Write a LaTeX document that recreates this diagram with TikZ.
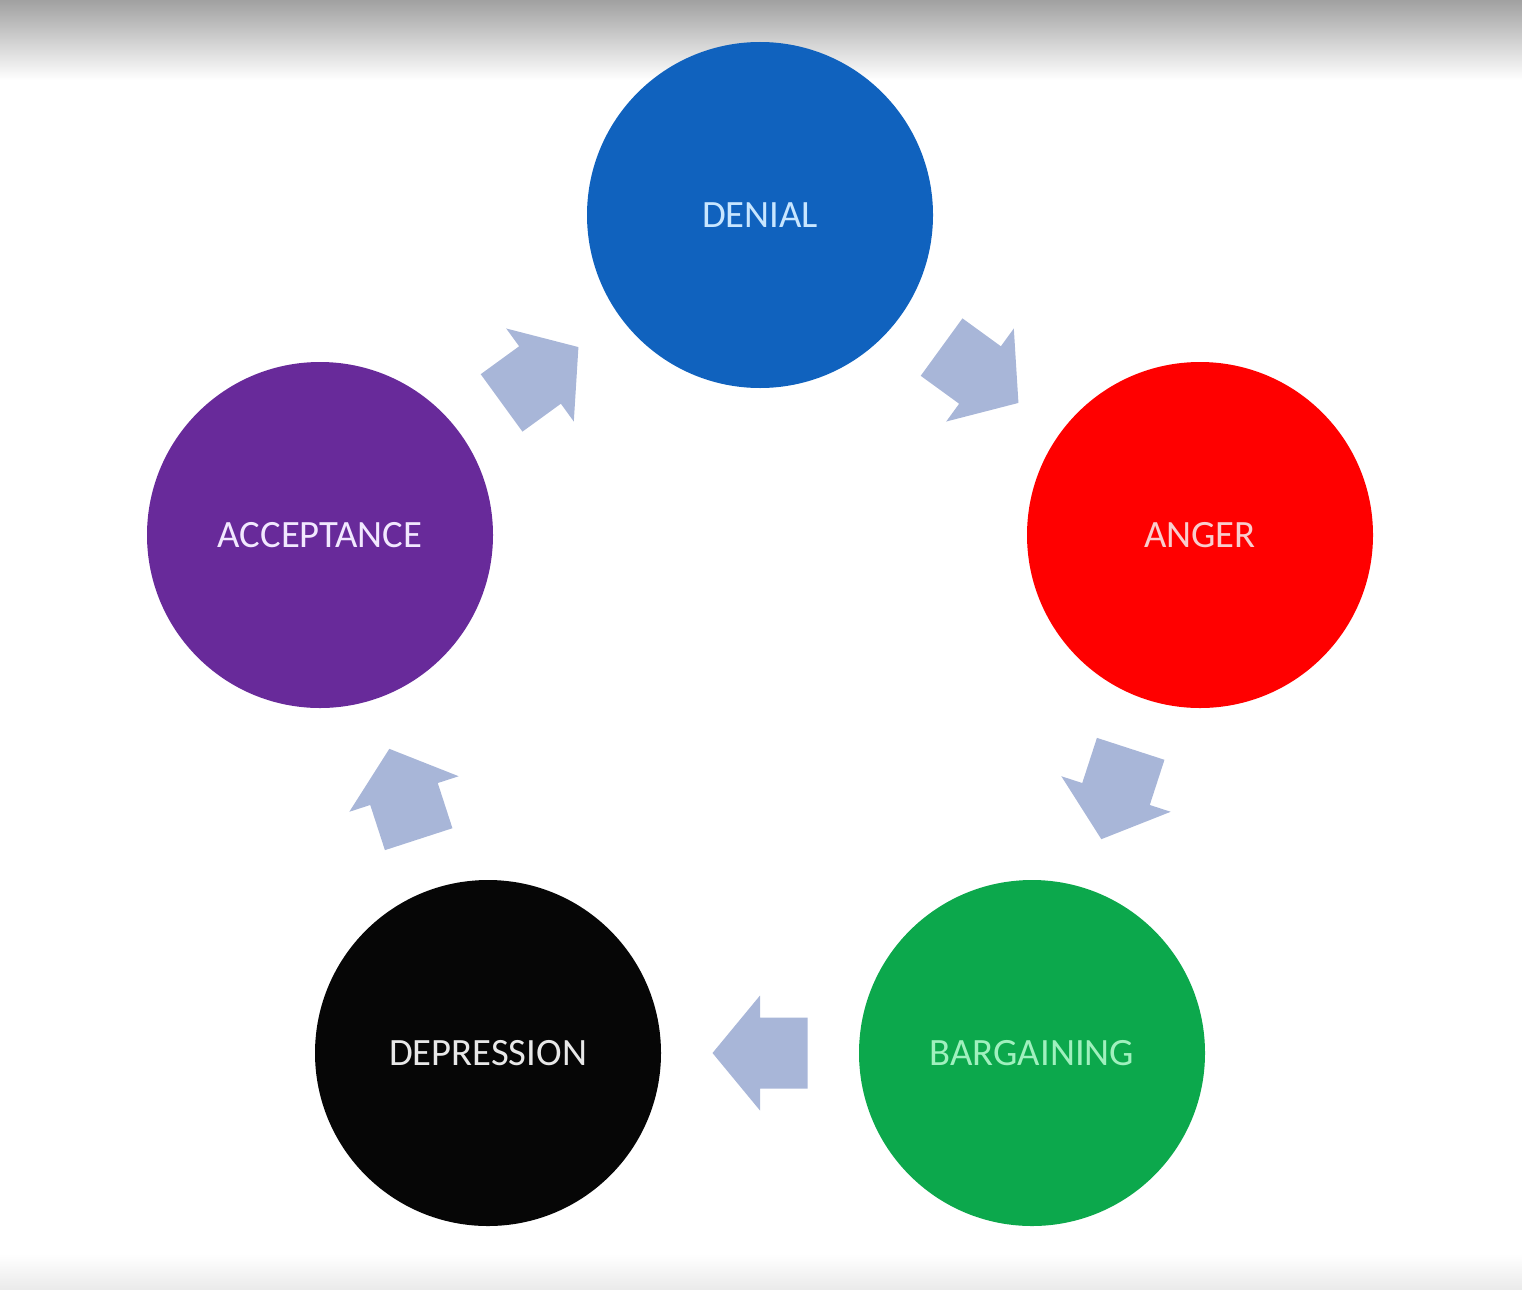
\documentclass[tikz,border=0pt]{standalone}
\usepackage{fontspec}
\setmainfont{Carlito}
\usetikzlibrary{calc}
\definecolor{denialblue}{RGB}{16,98,190}
\definecolor{angerred}{RGB}{255,0,0}
\definecolor{bargreen}{RGB}{12,168,76}
\definecolor{deprblack}{RGB}{6,6,6}
\definecolor{accpurple}{RGB}{104,42,154}
\definecolor{arrowfill}{RGB}{168,182,216}
\tikzset{
  stage/.style={circle,minimum size=3.46cm,inner sep=0pt,font=\fontsize{11}{13}\selectfont},
  blockarrow/.pic={
    \fill[arrowfill] (-0.475,-0.355) -- (0,-0.355) -- (0,-0.575) -- (0.475,0)
      -- (0,0.575) -- (0,0.355) -- (-0.475,0.355) -- cycle;
  }
}
\begin{document}
\begin{tikzpicture}
  \useasboundingbox (0,0) rectangle (15.22,12.89);
  % screen edges
  \shade[top color=gray!74,bottom color=white] (0,12.09) rectangle (15.22,12.89);
  \shade[top color=white,bottom color=gray!16] (0,0) rectangle (15.22,0.35);
  % the five stages
  \node[stage,fill=denialblue,text={rgb,255:red,200;green,230;blue,255}] (denial) at (7.60,10.74) {DENIAL};
  \node[stage,fill=angerred,text={rgb,255:red,248;green,205;blue,205}] (anger) at (12.00,7.54) {ANGER};
  \node[stage,fill=bargreen,text={rgb,255:red,160;green,240;blue,190}] (bargaining) at (10.32,2.36) {BARGAINING};
  \node[stage,fill=deprblack,text={rgb,255:red,232;green,232;blue,232}] (depression) at (4.88,2.36) {DEPRESSION};
  \node[stage,fill=accpurple,text={rgb,255:red,242;green,232;blue,255}] (acceptance) at (3.20,7.54) {ACCEPTANCE};
  % arrows between them
  \pic[rotate=-36] at ($(denial)!0.5!(anger)$) {blockarrow};
  \pic[rotate=-108] at ($(anger)!0.5!(bargaining)$) {blockarrow};
  \pic[rotate=180] at ($(bargaining)!0.5!(depression)$) {blockarrow};
  \pic[rotate=108] at ($(depression)!0.5!(acceptance)$) {blockarrow};
  \pic[rotate=36] at ($(acceptance)!0.5!(denial)$) {blockarrow};
\end{tikzpicture}
\end{document}
